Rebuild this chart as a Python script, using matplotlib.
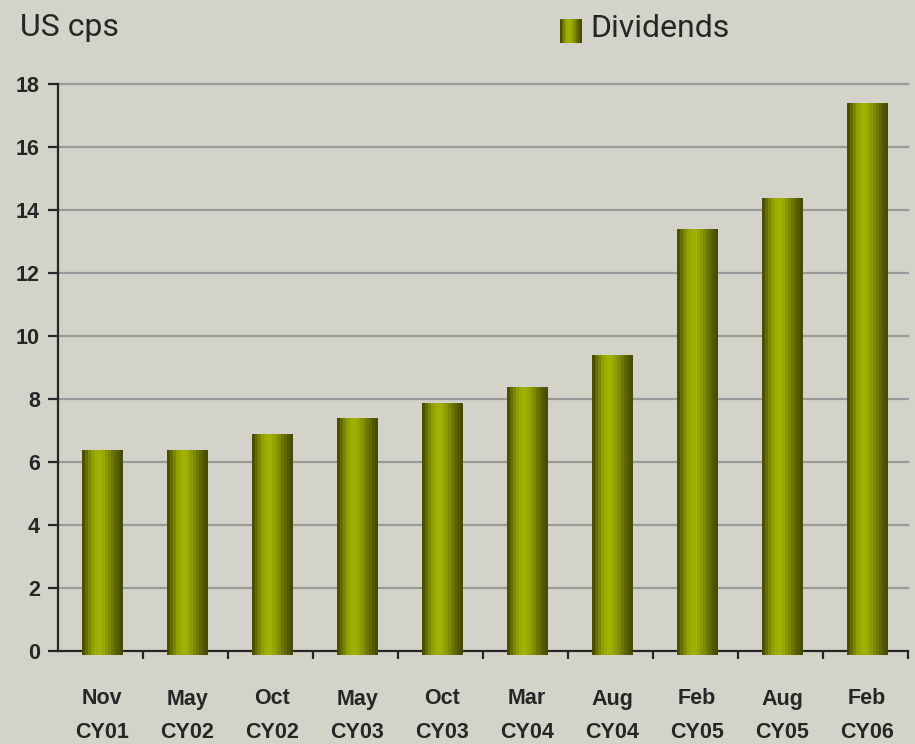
import numpy as np
import matplotlib
matplotlib.use('Agg')
import matplotlib.pyplot as plt
from matplotlib.colors import LinearSegmentedColormap

# dividend history, US cents per share
periods = ['Nov\nCY01', 'May\nCY02', 'Oct\nCY02', 'May\nCY03', 'Oct\nCY03',
           'Mar\nCY04', 'Aug\nCY04', 'Feb\nCY05', 'Aug\nCY05', 'Feb\nCY06']
dividends = [6.5, 6.5, 7.0, 7.5, 8.0, 8.5, 9.5, 13.5, 14.5, 17.5]
yticks = [0, 2, 4, 6, 8, 10, 12, 14, 16, 18]

bg = '#d3d3c9'
ink = '#262626'

# cylinder-ish shading across each bar
shade = LinearSegmentedColormap.from_list(
    'olive', ['#4a5000', '#6f7a00', '#8e9d00', '#9fb000', '#a2b300',
              '#95a500', '#838f00', '#6c7600', '#565e00', '#464c00'], N=14)
grad = np.linspace(0, 1, 256).reshape(1, -1)

fig = plt.figure(figsize=(9.15, 7.44), dpi=100, facecolor=bg)
ax = fig.add_axes([58 / 915, 93 / 744, 850 / 915, 567 / 744], facecolor=bg)

x = np.arange(len(dividends)) + 0.52
w = 0.48

for yv in yticks[1:]:
    ax.axhline(yv, color='#9a9a9a', lw=1.6, zorder=1, clip_on=False)

for xi, v in zip(x, dividends):
    # slight drop-shadow offset, as in the original 3D-style bars
    ax.imshow(grad, cmap=shade, aspect='auto', interpolation='nearest',
              extent=(xi - w / 2, xi + w / 2, -0.13, v - 0.13),
              zorder=3, clip_on=False)

ax.set_xlim(0, len(dividends))
ax.set_ylim(0, 18)

for s in ['top', 'right']:
    ax.spines[s].set_visible(False)
for s in ['left', 'bottom']:
    ax.spines[s].set_color(ink)
    ax.spines[s].set_linewidth(1.6)
    ax.spines[s].set_zorder(2)

ax.set_yticks(yticks)
ax.set_yticklabels([str(t) for t in yticks], fontsize=15.5, fontweight='bold',
                   family='Liberation Sans', color=ink)
ax.tick_params(axis='y', direction='out', length=7, width=1.6, color=ink, pad=6)

ax.set_xticks(np.arange(1, len(dividends) + 1))
ax.set_xticklabels([])
ax.set_xticks(x, minor=True)
ax.set_xticklabels(periods, minor=True, fontsize=15.5, fontweight='bold',
                   family='Liberation Sans', color=ink, linespacing=1.75)
ax.tick_params(axis='x', which='major', direction='out', length=6, width=1.6, color=ink)
ax.tick_params(axis='x', which='minor', length=0, pad=27)

fig.text(20 / 915, 1 - 36 / 744, 'US cps', fontsize=23, color=ink,
         family=['Roboto', 'DejaVu Sans'], va='baseline')

# legend swatch
lax = fig.add_axes([560 / 915, 1 - 43 / 744, 22 / 915, 24 / 744])
lax.imshow(grad, cmap=shade, aspect='auto', interpolation='nearest')
lax.set_axis_off()
fig.text(590 / 915, 1 - 37 / 744, 'Dividends', fontsize=23, color=ink,
         family=['Roboto', 'DejaVu Sans'], va='baseline')

fig.savefig('out.png', dpi=100, facecolor=bg)
